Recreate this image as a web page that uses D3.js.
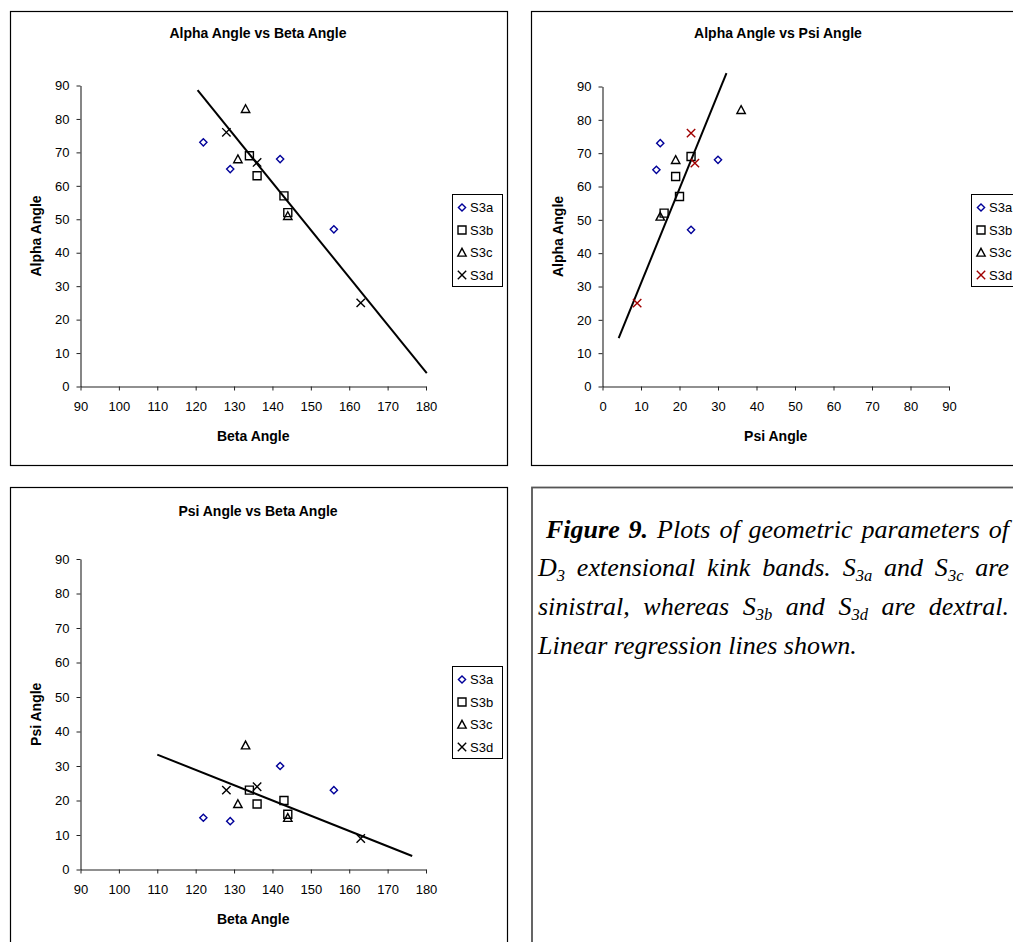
<!DOCTYPE html>
<html>
<head>
<meta charset="utf-8">
<script src="https://cdn.jsdelivr.net/npm/d3@7"></script>
<style>
  body { margin: 0; background: #fff; }
  #wrap { position: relative; width: 1013px; height: 942px; overflow: hidden; background: #fff; }
  #wrap svg { position: absolute; left: 0; top: 0; }
  .cap { position: absolute; font-family: "Liberation Serif", "Times New Roman", serif; font-style: italic;
         font-size: 26px; line-height: 39px; white-space: nowrap; text-align: justify; text-align-last: justify; color: #000; }
  .cap.last { text-align: left; text-align-last: left; }
  .cap sub { font-size: 16.5px; vertical-align: -5px; line-height: 0; }
</style>
</head>
<body>
<div id="wrap"></div>
<script>
// Kink band measurements (degrees) per set
const seriesNames = ["S3a", "S3b", "S3c", "S3d"];
const betaS3a = [122, 129, 142, 156];
const alphaS3a = [73, 65, 68, 47];
const psiS3a = [15, 14, 30, 23];
const betaS3b = [134, 136, 143, 144];
const alphaS3b = [69, 63, 57, 52];
const psiS3b = [23, 19, 20, 16];
const betaS3c = [133, 131, 144];
const alphaS3c = [83, 68, 51];
const psiS3c = [36, 19, 15];
const betaS3d = [128, 136, 163];
const alphaS3d = [76, 67, 25];
const psiS3d = [23, 24, 9];

// Regression line end points [x, y]
const trendAlphaBeta = [[120.5, 88.6], [180.2, 4.0]];
const trendAlphaPsi = [[4.2, 14.5], [32.2, 94.0]];
const trendPsiBeta = [[110.0, 33.3], [176.4, 3.9]];

// Axis ticks
const angleTicks = [0, 10, 20, 30, 40, 50, 60, 70, 80, 90];
const betaTicks = [90, 100, 110, 120, 130, 140, 150, 160, 170, 180];

const captionLines = [
  '<b>Figure 9.</b> Plots of geometric parameters of',
  'D<sub>3</sub> extensional kink bands. S<sub>3a</sub> and S<sub>3c</sub> are',
  'sinistral, whereas S<sub>3b</sub> and S<sub>3d</sub> are dextral.',
  'Linear regression lines shown.'
];

const betaBySeries = [betaS3a, betaS3b, betaS3c, betaS3d];
const alphaBySeries = [alphaS3a, alphaS3b, alphaS3c, alphaS3d];
const psiBySeries = [psiS3a, psiS3b, psiS3c, psiS3d];

const W = 1013, H = 942;
const wrap = d3.select("#wrap");
const svg = wrap.append("svg").attr("width", W).attr("height", H);
const SANS = "'Liberation Sans', Arial, sans-serif";

const markerShapes = ["diamond", "square", "triangle", "cross"];
function markerPath(kind) {
  switch (kind) {
    case "diamond": return "M0,-3.6L3.6,0L0,3.6L-3.6,0Z";
    case "square": return "M-4,-4H4V4H-4Z";
    case "triangle": return "M0,-4.2L4.2,3.6H-4.2Z";
    default: return "M-4.2,-4.2L4.2,4.2M4.2,-4.2L-4.2,4.2";
  }
}

function drawChart(cfg) {
  const g = svg.append("g");
  // chart frame
  g.append("rect")
    .attr("x", cfg.frame[0] + 0.5).attr("y", cfg.frame[1] + 0.5)
    .attr("width", cfg.frame[2]).attr("height", cfg.frame[3])
    .attr("fill", "#fff").attr("stroke", "#000").attr("stroke-width", 1.2);

  const x = d3.scaleLinear().domain(cfg.xDomain).range(cfg.xRange);
  const y = d3.scaleLinear().domain([0, 90]).range(cfg.yRange);

  const xAxis = g.append("g")
    .attr("transform", `translate(0,${cfg.yRange[0]})`)
    .call(d3.axisBottom(x).tickValues(cfg.xTicks).tickSize(4).tickSizeOuter(0).tickPadding(11.5));
  const yAxis = g.append("g")
    .attr("transform", `translate(${cfg.xRange[0]},0)`)
    .call(d3.axisLeft(y).tickValues(angleTicks).tickSize(4).tickSizeOuter(0).tickPadding(7));
  [xAxis, yAxis].forEach(a => {
    a.selectAll("path.domain").attr("stroke", "#222").attr("stroke-width", 1.1);
    a.selectAll(".tick line").attr("stroke", "#222").attr("stroke-width", 1);
    a.selectAll(".tick text").attr("font-family", SANS).attr("font-size", 13).attr("fill", "#000");
  });

  // title and axis titles
  g.append("text").attr("x", cfg.titleX).attr("y", cfg.titleY)
    .attr("text-anchor", "middle").attr("font-family", SANS).attr("font-weight", "bold")
    .attr("font-size", 14).text(cfg.title);
  const xMid = (cfg.xRange[0] + cfg.xRange[1]) / 2;
  const yMid = (cfg.yRange[0] + cfg.yRange[1]) / 2;
  g.append("text").attr("x", xMid).attr("y", cfg.yRange[0] + 54)
    .attr("text-anchor", "middle").attr("font-family", SANS).attr("font-weight", "bold")
    .attr("font-size", 14).text(cfg.xLabel);
  g.append("text").attr("transform", `translate(${cfg.xRange[0] - 40},${yMid}) rotate(-90)`)
    .attr("text-anchor", "middle").attr("font-family", SANS).attr("font-weight", "bold")
    .attr("font-size", 14).text(cfg.yLabel);

  // regression line
  g.append("path")
    .attr("d", d3.line().x(d => x(d[0])).y(d => y(d[1]))(cfg.trend))
    .attr("fill", "none").attr("stroke", "#000").attr("stroke-width", 2);

  // data points
  seriesNames.forEach((name, i) => {
    const xs = cfg.xs[i], ys = cfg.ys[i];
    const pts = xs.map((v, j) => [v, ys[j]]);
    g.append("g").selectAll("path").data(pts).join("path")
      .attr("transform", d => `translate(${x(d[0])},${y(d[1])})`)
      .attr("d", markerPath(markerShapes[i]))
      .attr("fill", "none")
      .attr("stroke", cfg.colors[i])
      .attr("stroke-width", 1.4);
  });

  // legend
  const lg = g.append("g").attr("transform", `translate(${cfg.legend[0]},${cfg.legend[1]})`);
  lg.append("rect").attr("x", 0.5).attr("y", 0.5).attr("width", 50).attr("height", 92)
    .attr("fill", "#fff").attr("stroke", "#000").attr("stroke-width", 1);
  seriesNames.forEach((name, i) => {
    const yy = 13.5 + i * 22.5;
    lg.append("path").attr("transform", `translate(10,${yy})`)
      .attr("d", markerPath(markerShapes[i]))
      .attr("fill", "none").attr("stroke", cfg.colors[i]).attr("stroke-width", 1.4);
    lg.append("text").attr("x", 18).attr("y", yy).attr("dy", "0.35em")
      .attr("font-family", SANS).attr("font-size", 13).text(name);
  });
}

const blackColors = ["#000099", "#000", "#000", "#000"];
const redColors = ["#000099", "#000", "#000", "#a00000"];

drawChart({
  frame: [10, 11, 497, 454],
  xRange: [80.5, 426], yRange: [386.5, 85.5],
  xDomain: [90, 180], xTicks: betaTicks,
  title: "Alpha Angle vs Beta Angle", titleX: 258, titleY: 38,
  xLabel: "Beta Angle", yLabel: "Alpha Angle",
  xs: betaBySeries, ys: alphaBySeries, trend: trendAlphaBeta,
  colors: blackColors, legend: [452, 194]
});

drawChart({
  frame: [531, 11, 497, 454],
  xRange: [602.5, 949], yRange: [386.5, 86.5],
  xDomain: [0, 90], xTicks: angleTicks,
  title: "Alpha Angle vs Psi Angle", titleX: 778, titleY: 38,
  xLabel: "Psi Angle", yLabel: "Alpha Angle",
  xs: psiBySeries, ys: alphaBySeries, trend: trendAlphaPsi,
  colors: redColors, legend: [971, 194]
});

drawChart({
  frame: [10, 487, 497, 470],
  xRange: [80.5, 426], yRange: [869.5, 559],
  xDomain: [90, 180], xTicks: betaTicks,
  title: "Psi Angle vs Beta Angle", titleX: 258, titleY: 516,
  xLabel: "Beta Angle", yLabel: "Psi Angle",
  xs: betaBySeries, ys: psiBySeries, trend: trendPsiBeta,
  colors: blackColors, legend: [452, 666]
});

// caption box
svg.append("rect").attr("x", 532).attr("y", 487.5).attr("width", 500).attr("height", 470)
  .attr("fill", "#fff").attr("stroke", "#555").attr("stroke-width", 1.8);

const firstBaseline = 538, lineGap = 38.7;
captionLines.forEach((html, i) => {
  const left = i === 0 ? 546 : 538;
  wrap.append("div")
    .attr("class", i === captionLines.length - 1 ? "cap last" : "cap")
    .style("left", left + "px")
    .style("width", (1009 - left) + "px")
    .style("top", (firstBaseline + i * lineGap - 28.4) + "px")
    .html(html);
});
</script>
</body>
</html>
